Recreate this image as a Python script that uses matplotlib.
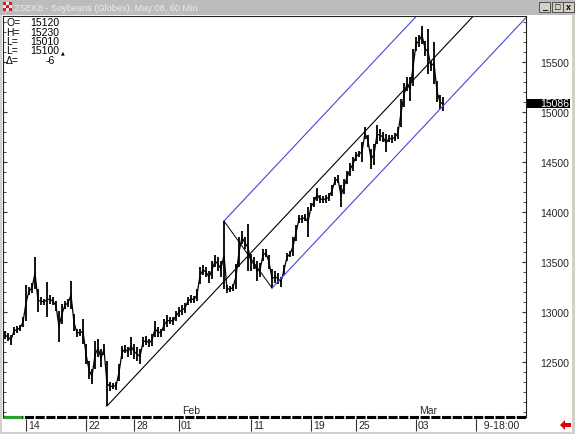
import matplotlib
matplotlib.use("Agg")
import matplotlib.pyplot as plt
from matplotlib.patches import Rectangle, Polygon
from matplotlib.transforms import blended_transform_factory
import numpy as np

W, H = 575, 435

# 60 min bars, highs / lows (price * 100 style, as shown)
highs = [12810, 12790, 12770, 12850, 12860, 12870, 12950, 13270, 13250, 13290,
         13550, 13230, 13150, 13130, 13300, 13170, 13150, 13110, 13010, 13080,
         13110, 13130, 13310, 12980, 12830, 12830, 12930, 12680, 12510, 12430,
         12710, 12730, 12630, 12680, 12510, 12300, 12290, 12300, 12480, 12660,
         12670, 12650, 12750, 12680, 12650, 12630, 12750, 12760, 12730, 12780,
         12910, 12850, 12830, 12930, 12970, 12950, 12950, 13010, 13050, 13070,
         13090, 13150, 13170, 13160, 13230, 13450, 13470, 13450, 13410, 13510,
         13570, 13550, 13510, 13910, 13270, 13260, 13280, 13480, 13750, 13810,
         13750, 13880, 13580, 13550, 13510, 13490, 13630, 13630, 13570, 13430,
         13410, 13390, 13350, 13470, 13590, 13610, 13750, 13870, 13970, 13970,
         13980, 14050, 14090, 14150, 14240, 14170, 14160, 14170, 14190, 14270,
         14350, 14370, 14270, 14330, 14410, 14490, 14550, 14600, 14610, 14700,
         14850, 14770, 14630, 14680, 14870, 14830, 14800, 14780, 14770, 14770,
         14790, 14850, 15130, 15290, 15350, 15350, 15630, 15750, 15770, 15860,
         15710, 15830, 15510, 15700, 15310, 15170, 15150]
lows = [12730, 12710, 12670, 12770, 12790, 12810, 12850, 12910, 13170, 13190,
        13230, 13000, 13070, 13070, 12950, 13080, 13070, 13010, 12700, 12880,
        13030, 13050, 13030, 12810, 12750, 12760, 12680, 12480, 12330, 12280,
        12430, 12550, 12450, 12570, 12060, 12210, 12230, 12220, 12310, 12530,
        12590, 12550, 12570, 12530, 12510, 12480, 12650, 12670, 12650, 12660,
        12750, 12750, 12750, 12810, 12850, 12880, 12870, 12910, 12950, 12970,
        12990, 13070, 13090, 13090, 13110, 13280, 13370, 13350, 13290, 13330,
        13450, 13410, 13350, 13230, 13190, 13200, 13210, 13230, 13450, 13680,
        13630, 13410, 13410, 13430, 13310, 13350, 13510, 13550, 13430, 13240,
        13290, 13280, 13250, 13370, 13510, 13550, 13560, 13710, 13890, 13890,
        13910, 13750, 14010, 14050, 14110, 14090, 14090, 14090, 14110, 14160,
        14270, 14290, 14050, 14180, 14280, 14360, 14410, 14510, 14550, 14500,
        14730, 14650, 14430, 14470, 14680, 14710, 14700, 14600, 14700, 14690,
        14710, 14730, 14850, 15050, 15210, 15110, 15260, 15610, 15650, 15680,
        15560, 15380, 15410, 15280, 15100, 15030, 15010]

# channel anchors: (bar, price)
trend_low = (34, 12060)
trend_pt = (65, 13050)
swing_high = (73, 13910)
swing_low = (89, 13240)

day_ticks = [7, 27, 43, 58, 82, 102, 117, 137, 157]
day_labels = ["14", "22", "28", "01", "11", "19", "25", "03", "  9-18:00"]
month_ticks = [58, 137]
month_labels = ["Feb", "Mar"]

price_ticks = [12500, 13000, 13500, 14000, 14500, 15000, 15500]
last_price = 15086

quote_names = ["O=", "H=", "L=", "L=", "\u0394="]
quote_values = ["15120", "15230", "15010", "15100", "-6"]

title = "ZSEK8 - Soybeans (Globex), May 08, 60 Min"

plt.rcParams["font.family"] = ["Liberation Sans", "DejaVu Sans"]

WINGRAY = "#d4d0c8"
BLUE = "#4646dc"
TXT = "#262626"

fig = plt.figure(figsize=(W / 100, H / 100), dpi=100, facecolor=WINGRAY)


def px_rect(x0, y0, x1, y1, zorder=-5, **kw):
    fig.patches.append(Rectangle((x0 / W, 1 - y1 / H), (x1 - x0) / W, (y1 - y0) / H,
                                 transform=fig.transFigure, zorder=zorder, **kw))


def px_text(x, y, s, **kw):
    fig.text(x / W, 1 - y / H, s, **kw)


# window chrome
px_rect(2, 16, 572, 433, facecolor="white", edgecolor="none")
px_rect(0, 0, W, 16, facecolor="#bcbcbc", edgecolor="none")
for r in range(3):
    for c in range(3):
        col = "#d02020" if (r + c) % 2 == 0 else "#f4e4e4"
        px_rect(3 + c * 3, 3 + r * 3, 6 + c * 3, 6 + r * 3, facecolor=col, edgecolor="none")
px_text(14, 8.5, title, color="#ececec", fontsize=6.6, va="center", ha="left")
for bx, glyph in zip([539, 552, 563], ["_", "\u25a1", "x"]):
    px_rect(bx, 3, bx + 11, 13, facecolor=WINGRAY, edgecolor="#404040", linewidth=0.6)
    px_text(bx + 5.5, 8, glyph, color="black", fontsize=6.5, ha="center", va="center",
            fontweight="bold")

# chart axes (pixel frame 3..526 x 17..418)
ax = fig.add_axes([3 / W, (H - 418) / H, 523 / W, 401 / H])
ax.set_facecolor("white")
x = np.arange(len(highs))
hi = np.array(highs)
lo = np.array(lows)
ax.vlines(x, lo, hi, color="black", linewidth=1.3)
ax.plot(x, (hi + lo) / 2, color="black", linewidth=0.9)

xmax = 521 / 3
ax.set_xlim(-2 / 3, xmax)
ax.set_ylim(11950, 15960)

slope = (trend_pt[1] - trend_low[1]) / (trend_pt[0] - trend_low[0])


def channel(anchor, color):
    ax.plot([anchor[0], xmax], [anchor[1], anchor[1] + slope * (xmax - anchor[0])],
            color=color, linewidth=0.8)


channel(trend_low, "black")
channel(swing_high, BLUE)
channel(swing_low, BLUE)
ax.plot([swing_high[0], swing_low[0]], [swing_high[1], swing_low[1]], color="black",
        linewidth=0.7)

# y axis on the right
ax.set_xticks([])
ax.set_yticks(price_ticks)
ax.set_yticks(np.arange(12000, 16000, 100), minor=True)
ax.tick_params(axis="y", which="both", left=True, right=True, labelleft=False,
               labelright=True, direction="in", colors="#333333")
ax.tick_params(axis="y", which="major", length=3, pad=10, labelsize=7.5, labelcolor=TXT)
ax.tick_params(axis="y", which="minor", length=2)
for side in ["top", "left", "right"]:
    ax.spines[side].set_linewidth(0.8)
    ax.spines[side].set_color("#202020")
ax.spines["bottom"].set_visible(False)

# last price box
bt = blended_transform_factory(ax.transAxes, ax.transData)
ax.add_patch(Rectangle((1.002, last_price - 42), 0.083, 86, transform=bt,
                       facecolor="black", edgecolor="none", clip_on=False))
ax.text(1.0265, last_price, str(last_price), transform=bt, color="white", fontsize=7.5,
        ha="left", va="center", clip_on=False)

# bottom ruler
px_per_unit_y = 1 / 401
ax.plot([0, 1], [0, 0], transform=ax.transAxes, color="black", linewidth=2.2,
        dashes=(3, 0.5), clip_on=False, solid_capstyle="butt")
ax.plot([0, 19 / 523], [0, 0], transform=ax.transAxes, color="#2ca02c", linewidth=2.2,
        clip_on=False, solid_capstyle="butt")

# date axis below
bx_t = blended_transform_factory(ax.transData, ax.transAxes)
ax.vlines(day_ticks, -14 * px_per_unit_y, -1.5 * px_per_unit_y, transform=bx_t,
          color="#303030", linewidth=0.8, clip_on=False)
for t, lab in zip(day_ticks, day_labels):
    ax.text(t + 0.7, -8 * px_per_unit_y, lab, transform=bx_t, fontsize=7.5, color=TXT,
            ha="left", va="center", clip_on=False)
for t, lab in zip(month_ticks, month_labels):
    ax.text(t + 1, 7 * px_per_unit_y, lab, transform=bx_t, fontsize=7.5, color=TXT,
            ha="left", va="center")

# quote box
for k, (nm, val) in enumerate(zip(quote_names, quote_values)):
    yy = 23.3 + k * 9.4
    px_text(6, yy, nm, fontsize=7.5, color="black", va="center", ha="left")
    px_text(59 if val != "-6" else 55, yy, val, fontsize=7.5, color="black", va="center",
            ha="right")
px_text(61, 52.5, "\u25b2", fontsize=3.5, color="black", va="center", ha="left",
        family="DejaVu Sans")

# red arrow bottom right
arrow = [(560, 426), (565, 421), (565, 424), (571, 424), (571, 428), (565, 428), (565, 431)]
fig.patches.append(Polygon([(a / W, 1 - b / H) for a, b in arrow], closed=True,
                           transform=fig.transFigure, facecolor="#e00000", edgecolor="none"))

fig.savefig("out.png", dpi=100, facecolor=WINGRAY)
